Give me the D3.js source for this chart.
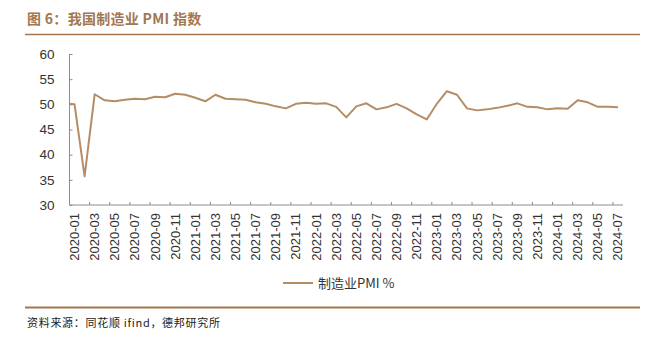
<!DOCTYPE html>
<html>
<head>
<meta charset="utf-8">
<script src="https://cdn.jsdelivr.net/npm/d3@7/dist/d3.min.js"></script>
<style>
  html, body { margin: 0; padding: 0; background: #fff; }
  svg { display: block; }
</style>
</head>
<body>
<svg id="chart" width="664" height="340"></svg>
<script>
// Monthly manufacturing PMI, 2019-12 through 2024-07
const months = [
  "2019-12",
  "2020-01","2020-02","2020-03","2020-04","2020-05","2020-06","2020-07","2020-08","2020-09","2020-10","2020-11","2020-12",
  "2021-01","2021-02","2021-03","2021-04","2021-05","2021-06","2021-07","2021-08","2021-09","2021-10","2021-11","2021-12",
  "2022-01","2022-02","2022-03","2022-04","2022-05","2022-06","2022-07","2022-08","2022-09","2022-10","2022-11","2022-12",
  "2023-01","2023-02","2023-03","2023-04","2023-05","2023-06","2023-07","2023-08","2023-09","2023-10","2023-11","2023-12",
  "2024-01","2024-02","2024-03","2024-04","2024-05","2024-06","2024-07"
];
const pmi = [
  50.2,
  50.0,35.7,52.0,50.8,50.6,50.9,51.1,51.0,51.5,51.4,52.1,51.9,
  51.3,50.6,51.9,51.1,51.0,50.9,50.4,50.1,49.6,49.2,50.1,50.3,
  50.1,50.2,49.5,47.4,49.6,50.2,49.0,49.4,50.1,49.2,48.0,47.0,
  50.1,52.6,51.9,49.2,48.8,49.0,49.3,49.7,50.2,49.5,49.4,49.0,
  49.2,49.1,50.8,50.4,49.5,49.5,49.4
];
const yTicks = [30, 35, 40, 45, 50, 55, 60];
const titleText = "图 6：我国制造业 PMI 指数";
const legendText = "制造业PMI %";
const sourceText = "资料来源：同花顺 ifind，德邦研究所";

const brown = "#a3774e";
const lineColor = "#b48d66";
const axisColor = "#8c8c8c";
const labelFont = "'Liberation Sans', Arial, sans-serif";
const cjkFont = "'Noto Sans CJK SC', 'Liberation Sans', sans-serif";

const svg = d3.select("#chart");

// first labelled month (2020-01) sits at index 1; plot spans its band to the last band
const firstIdx = months.indexOf("2020-01");
const lastIdx = months.length - 1;
const x = d3.scaleLinear()
  .domain([firstIdx - 0.5, lastIdx + 0.5])
  .range([69.5, 623]);
const y = d3.scaleLinear().domain([30, 60]).range([205, 54]);

// title and rules
svg.append("text")
  .attr("x", 27).attr("y", 24)
  .attr("font-family", cjkFont)
  .attr("font-size", 14).attr("font-weight", "bold")
  .attr("letter-spacing", 0.3)
  .attr("fill", brown)
  .text(titleText);
svg.append("line")
  .attr("x1", 25).attr("x2", 640).attr("y1", 34.5).attr("y2", 34.5)
  .attr("stroke", brown).attr("stroke-width", 1.5);

// y axis (ticks pointing into the plot)
const yAxis = d3.axisLeft(y).tickValues(yTicks).tickSize(-3).tickPadding(15);
const gy = svg.append("g").attr("transform", `translate(${x.range()[0]},0)`).call(yAxis);
gy.select(".domain").attr("stroke", axisColor).attr("d", `M0,${y(60)}V${y(30)}`);
gy.selectAll(".tick line").attr("stroke", axisColor);
gy.selectAll(".tick text")
  .attr("font-family", labelFont).attr("font-size", 13.5).attr("fill", "#333");

// x axis: ticks on band edges every two months, labels on odd-month centres
const labelIdx = d3.range(firstIdx, lastIdx + 1, 2);
const gx = svg.append("g").attr("transform", `translate(0,${y(30)})`);
gx.append("line")
  .attr("x1", x.range()[0]).attr("x2", x.range()[1])
  .attr("stroke", axisColor);
gx.selectAll("line.tk").data(labelIdx).join("line")
  .attr("class", "tk")
  .attr("x1", d => x(d - 0.5)).attr("x2", d => x(d - 0.5))
  .attr("y1", 0).attr("y2", -3)
  .attr("stroke", axisColor);
gx.selectAll("text").data(labelIdx).join("text")
  .attr("transform", d => `translate(${x(d) + 4.5},8) rotate(-90)`)
  .attr("text-anchor", "end")
  .attr("font-family", labelFont).attr("font-size", 13).attr("fill", "#333")
  .text(d => months[d]);

// series line, clipped to the plot area
svg.append("clipPath").attr("id", "plot-clip")
  .append("rect")
  .attr("x", x.range()[0]).attr("y", y(60) - 5)
  .attr("width", x.range()[1] - x.range()[0])
  .attr("height", y(30) - y(60) + 5);
const line = d3.line().x((d, i) => x(i)).y(d => y(d));
svg.append("path")
  .datum(pmi)
  .attr("clip-path", "url(#plot-clip)")
  .attr("fill", "none")
  .attr("stroke", lineColor)
  .attr("stroke-width", 2)
  .attr("stroke-linejoin", "round")
  .attr("d", line);

// legend
svg.append("line")
  .attr("x1", 283).attr("x2", 313).attr("y1", 283).attr("y2", 283)
  .attr("stroke", lineColor).attr("stroke-width", 2);
svg.append("text")
  .attr("x", 318).attr("y", 288)
  .attr("font-family", cjkFont).attr("font-size", 13).attr("fill", "#333")
  .text(legendText);

// footer rule and source note
svg.append("line")
  .attr("x1", 25).attr("x2", 640).attr("y1", 307.5).attr("y2", 307.5)
  .attr("stroke", brown).attr("stroke-width", 2);
svg.append("text")
  .attr("x", 27).attr("y", 327)
  .attr("font-family", cjkFont).attr("font-size", 11).attr("fill", "#222")
  .attr("letter-spacing", 0.7)
  .text(sourceText);
</script>
</body>
</html>
